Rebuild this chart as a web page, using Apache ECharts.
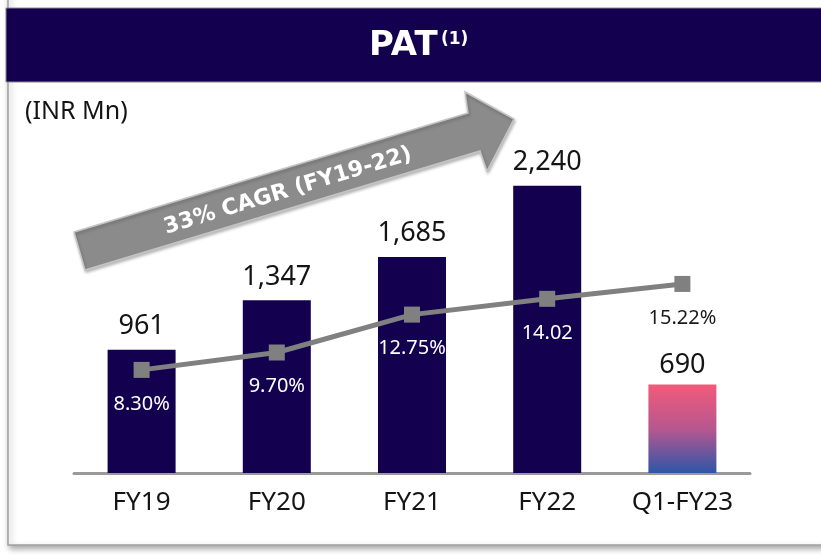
<!DOCTYPE html>
<html>
<head>
<meta charset="utf-8">
<script src="https://cdn.jsdelivr.net/npm/echarts@6/dist/echarts.min.js"></script>
<style>
  html, body { margin: 0; padding: 0; background: #ffffff; }
  #chart { width: 821px; height: 555px; }
</style>
</head>
<body>
<div id="chart"></div>
<script>
// Profit after tax (INR Mn) with PAT margin (%)
const categories = ['FY19', 'FY20', 'FY21', 'FY22', 'Q1-FY23'];
const patValues = [961, 1347, 1685, 2240, 690];
const marginValues = [8.30, 9.70, 12.75, 14.02, 15.22];
const marginSuffix = ['%', '%', '%', '', '%'];
const marginLabelColors = ['#ffffff', '#ffffff', '#ffffff', '#ffffff', '#1a1a1a'];

const NAVY = '#13004F';
const FONT = '"Noto Sans", "Open Sans", sans-serif';
const WIDE_FONT = '"DejaVu Sans", "Noto Sans", sans-serif';

const chart = echarts.init(document.getElementById('chart'), null, { renderer: 'canvas' });

const barData = patValues.map((v, i) => {
  if (i === patValues.length - 1) {
    return {
      value: v,
      label: { distance: 6 },
      itemStyle: {
        color: new echarts.graphic.LinearGradient(0, 0, 0, 1, [
          { offset: 0, color: '#F25A7A' },
          { offset: 0.5, color: '#B7578F' },
          { offset: 1, color: '#2E55A8' }
        ])
      }
    };
  }
  return { value: v, itemStyle: { color: NAVY } };
});

const lineData = marginValues.map((v, i) => ({
  value: v,
  label: {
    color: marginLabelColors[i],
    formatter: () => v.toFixed(2) + marginSuffix[i]
  }
}));

// Arrow shape for the growth annotation
const arrowPoints = [
  [74, 232], [468, 113], [465, 92], [514, 119],
  [487, 171], [480, 151], [85, 270]
];

const option = {
  backgroundColor: '#ffffff',
  animation: false,
  grid: { left: 74, right: 71, top: 91, bottom: 82 },
  xAxis: {
    type: 'category',
    data: categories,
    axisLine: { lineStyle: { color: '#9a9a9a', width: 3 } },
    axisTick: { show: false },
    axisLabel: { color: '#141414', fontSize: 26, fontFamily: FONT, margin: 17 }
  },
  yAxis: [
    { type: 'value', min: 0, max: 2980, show: false, splitLine: { show: false } },
    { type: 'value', min: 0, max: 30.75, show: false, splitLine: { show: false } }
  ],
  series: [
    {
      type: 'bar',
      data: barData,
      barWidth: 68,
      label: {
        show: true,
        position: 'top',
        distance: 10,
        color: '#141414',
        fontSize: 27,
        fontFamily: FONT,
        formatter: p => p.value.toLocaleString('en-US')
      },
      z: 2
    },
    {
      type: 'line',
      yAxisIndex: 1,
      data: lineData,
      symbol: 'rect',
      symbolSize: 16,
      lineStyle: { color: '#808080', width: 5 },
      itemStyle: { color: '#808080' },
      label: {
        show: true,
        position: 'bottom',
        distance: 16,
        fontSize: 20,
        fontFamily: FONT
      },
      z: 5
    }
  ],
  graphic: [
    {
      type: 'rect',
      z: -10,
      shape: { x: 8, y: -10, width: 840, height: 555 },
      style: {
        fill: '#ffffff',
        stroke: '#a0a0a0',
        lineWidth: 1.5,
        shadowBlur: 6,
        shadowOffsetX: 2,
        shadowOffsetY: 3,
        shadowColor: 'rgba(0,0,0,0.35)'
      }
    },
    {
      type: 'rect',
      z: 1,
      shape: { x: 6, y: 8, width: 830, height: 74 },
      style: { fill: NAVY, stroke: '#8a8a8a', lineWidth: 1 }
    },
    {
      type: 'text',
      z: 2,
      x: 369,
      y: 46,
      style: {
        text: 'PAT',
        fill: '#ffffff',
        font: 'bold 34px ' + WIDE_FONT,
        verticalAlign: 'middle'
      }
    },
    {
      type: 'text',
      z: 2,
      x: 441,
      y: 40,
      style: {
        text: '(1)',
        fill: '#ffffff',
        font: 'bold 17px ' + WIDE_FONT,
        verticalAlign: 'middle'
      }
    },
    {
      type: 'text',
      z: 2,
      x: 25,
      y: 112,
      style: {
        text: '(INR Mn)',
        fill: '#141414',
        font: '25px ' + FONT,
        verticalAlign: 'middle'
      }
    },
    {
      type: 'polygon',
      z: 3,
      shape: { points: arrowPoints },
      style: {
        fill: '#8b8b8b',
        stroke: '#c4c4c4',
        lineWidth: 1.5,
        shadowBlur: 3,
        shadowOffsetX: 1,
        shadowOffsetY: 2,
        shadowColor: 'rgba(0,0,0,0.25)'
      }
    },
    {
      type: 'text',
      z: 4,
      x: 288,
      y: 191,
      rotation: 16.8 * Math.PI / 180,
      style: {
        text: '33% CAGR (FY19-22)',
        fill: '#ffffff',
        font: 'bold 22px ' + WIDE_FONT,
        align: 'center',
        verticalAlign: 'middle'
      }
    }
  ]
};

chart.setOption(option);
</script>
</body>
</html>
